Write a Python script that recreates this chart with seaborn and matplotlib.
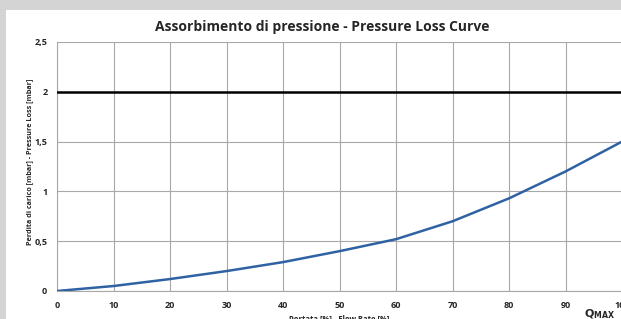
import matplotlib
matplotlib.use("Agg")
import matplotlib.pyplot as plt
import seaborn as sns
import pandas as pd
from matplotlib.patches import Rectangle

flow = [0, 10, 20, 30, 40, 50, 60, 70, 80, 90, 100]
loss = [0.0, 0.05, 0.12, 0.20, 0.29, 0.40, 0.52, 0.70, 0.93, 1.20, 1.50]
limit = 2.0
xticks = [0, 10, 20, 30, 40, 50, 60, 70, 80, 90, 100]
yticks = [0, 0.5, 1, 1.5, 2, 2.5]
ytick_labels = ["0", "0,5", "1", "1,5", "2", "2,5"]

sns.set_style("white")
plt.rcParams['font.family'] = ['Open Sans', 'DejaVu Sans']

fig = plt.figure(figsize=(6.21, 3.19), dpi=100)
fig.patch.set_facecolor("#d4d4d4")
fig.patches.append(Rectangle((6/621, 0), 1, (319-10)/319, transform=fig.transFigure,
                             facecolor="white", edgecolor="none", zorder=-5))

ax = fig.add_axes([57/621, 28/319, 565/621, 249/319])
ax.set_zorder(2)
ax.set_facecolor("white")

df = pd.DataFrame({"flow": flow, "loss": loss})
sns.lineplot(data=df, x="flow", y="loss", ax=ax, color="#2f62a3", linewidth=1.8, zorder=3)
ax.axhline(limit, color="black", linewidth=1.8, zorder=4)

ax.set_xlim(0, 100)
ax.set_ylim(0, 2.5)
ax.set_xticks(xticks)
ax.set_xticklabels([str(v) for v in xticks], fontsize=6.5, fontweight="bold")
ax.set_yticks(yticks)
ax.set_yticklabels(ytick_labels, fontsize=6.5, fontweight="bold")
ax.grid(True, color="#a8a8a8", linewidth=0.8)
for s in ["top", "right"]:
    ax.spines[s].set_visible(False)
for s in ["left", "bottom"]:
    ax.spines[s].set_color("#a8a8a8")
    ax.spines[s].set_linewidth(0.8)
ax.tick_params(axis="y", length=0, pad=7)
ax.tick_params(axis="x", length=0, pad=7)

ax.set_xlabel("Portata [%] - Flow Rate [%]", fontsize=5.5, fontweight="bold", labelpad=4)
ax.set_ylabel("Perdita di carico [mbar] - Pressure Loss [mbar]", fontsize=5.2, fontweight="bold")
ax.yaxis.set_label_coords(-24/565, 0.52)
fig.text(322/621, 1 - 27/319, "Assorbimento di pressione - Pressure Loss Curve",
         ha="center", va="center", fontsize=10, fontweight="bold")
fig.text(584/621, 1 - 314/319, r"$\mathbf{Q}_{\mathbf{MAX}}$", ha="left", va="center", fontsize=8)

fig.savefig("out.png", dpi=100, facecolor=fig.get_facecolor())
